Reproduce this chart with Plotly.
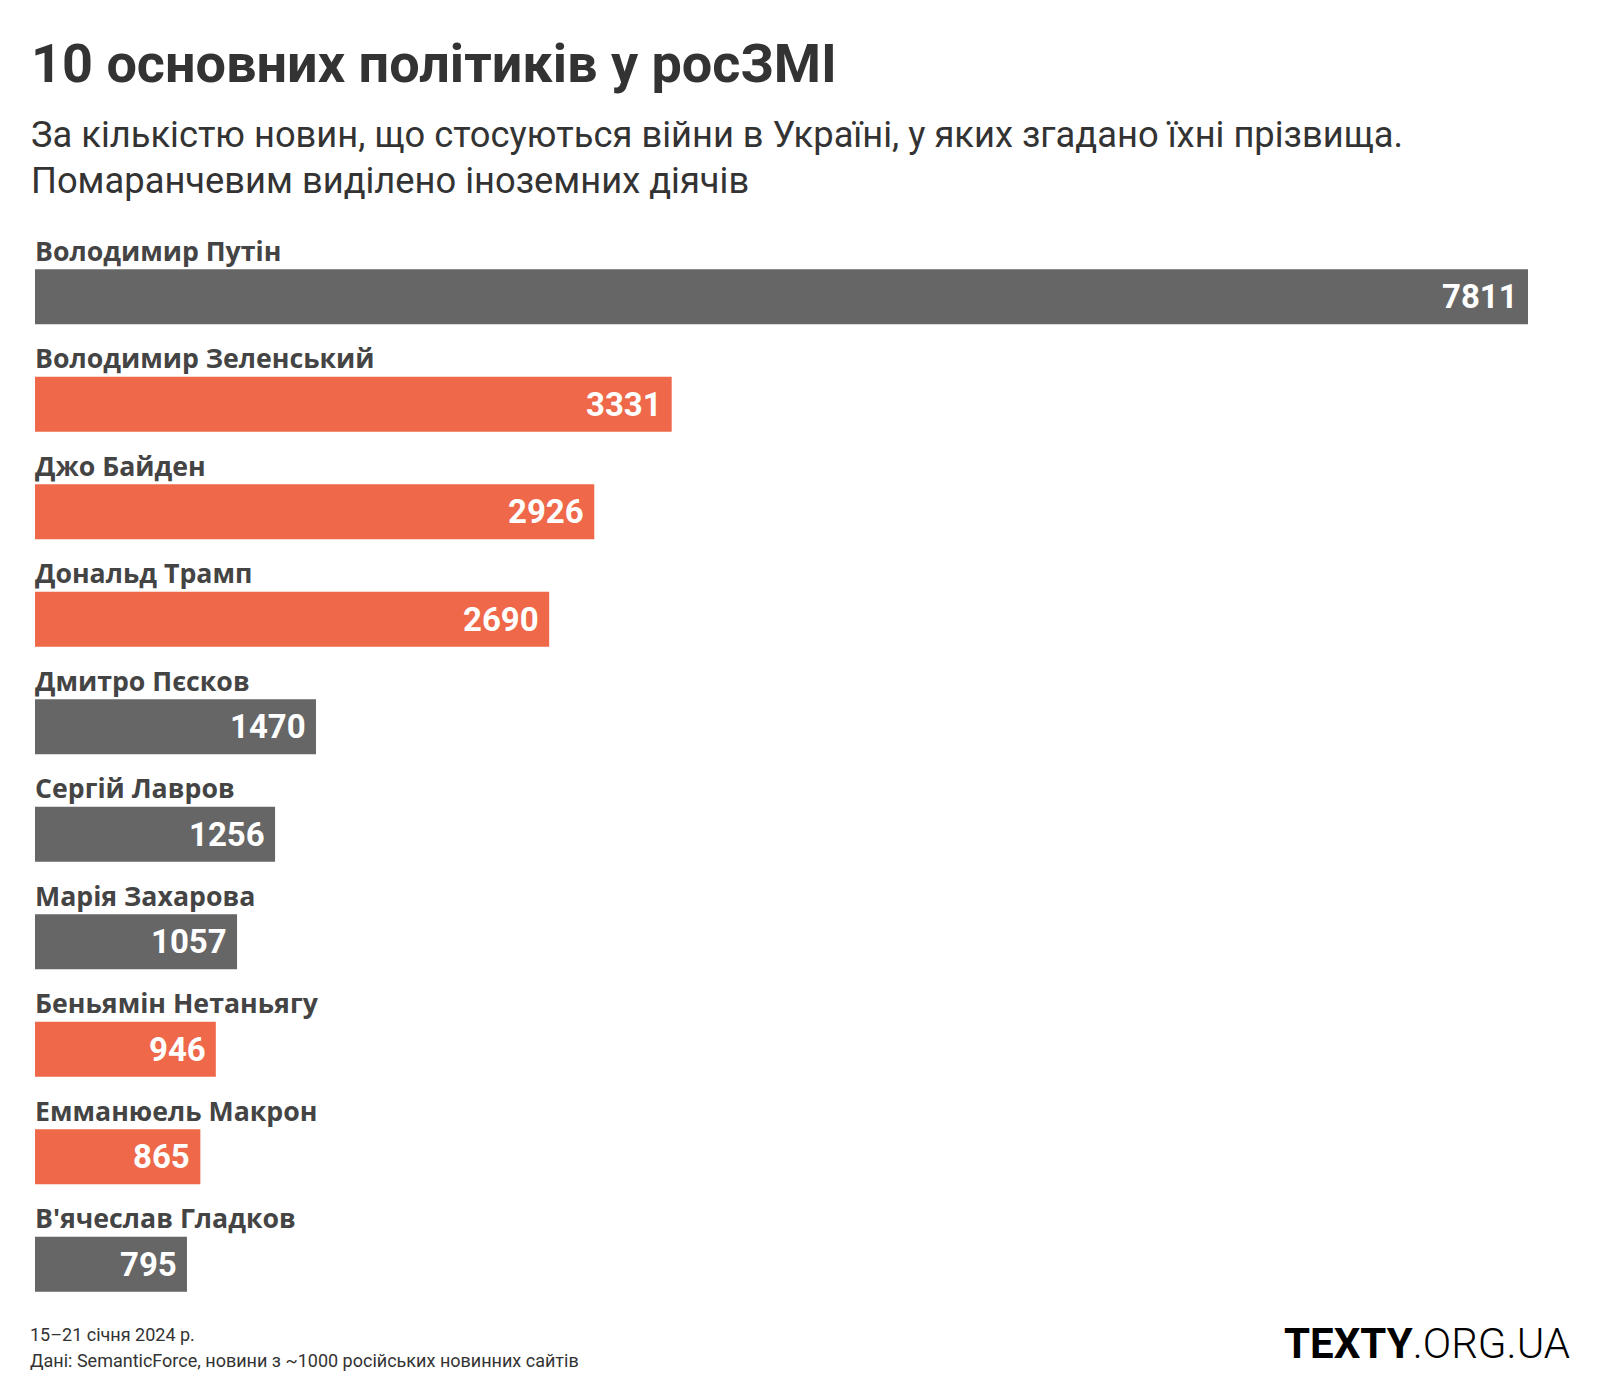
import plotly.graph_objects as go

names = ["Володимир Путін", "Володимир Зеленський", "Джо Байден", "Дональд Трамп",
         "Дмитро Пєсков", "Сергій Лавров", "Марія Захарова", "Беньямін Нетаньягу",
         "Емманюель Макрон", "В'ячеслав Гладков"]
counts = [7811, 3331, 2926, 2690, 1470, 1256, 1057, 946, 865, 795]
foreign = [False, True, True, True, False, False, False, True, True, False]

GRAY = "#666666"
ORANGE = "#ee6849"
FONT = "Roboto"
LABEL_FONT = "Open Sans"

OFF = 8  # default body margin of the html page
W, H = 1600 - OFF, 1400 - OFF
L, R, T, B = 27, 72, 235, 82
PW, PH = W - L - R, H - T - B


def px(x):
    """page x pixel -> paper coordinate"""
    return (x - OFF - L) / PW


def py(y):
    """page y pixel -> paper coordinate"""
    return (H - B - (y - OFF)) / PH


colors = [ORANGE if f else GRAY for f in foreign]

fig = go.Figure(go.Bar(
    x=counts, y=names, orientation="h",
    marker=dict(color=colors, line=dict(width=0)),
    hoverinfo="skip",
))

annotations = []
for n, c in zip(names, counts):
    annotations.append(dict(
        x=0, y=n, xref="x", yref="y", text=f"<b>{n}</b>", showarrow=False,
        xanchor="left", yanchor="bottom", yshift=26, xshift=-2,
        font=dict(family=LABEL_FONT, size=26.7, color="#444444"),
    ))
    annotations.append(dict(
        x=c, y=n, xref="x", yref="y", text=f"<b>{c}</b>", showarrow=False,
        xanchor="right", yanchor="middle", xshift=-8, yshift=0,
        font=dict(family=FONT, size=33, color="white"),
    ))

annotations += [
    dict(x=px(29), y=py(63), xref="paper", yref="paper", showarrow=False,
         text="<b>10 основних політиків у росЗМІ</b>", xanchor="left", yanchor="middle",
         font=dict(family=FONT, size=54, color="#333333")),
    dict(x=px(29), y=py(134), xref="paper", yref="paper", showarrow=False,
         text="За кількістю новин, що стосуються війни в Україні, у яких згадано їхні прізвища.",
         xanchor="left", yanchor="middle",
         font=dict(family=FONT, size=36.3, color="#333333")),
    dict(x=px(29), y=py(180), xref="paper", yref="paper", showarrow=False,
         text="Помаранчевим виділено іноземних діячів",
         xanchor="left", yanchor="middle",
         font=dict(family=FONT, size=36.3, color="#333333")),
    dict(x=px(28), y=py(1334), xref="paper", yref="paper", showarrow=False,
         text="15–21 січня 2024 р.", xanchor="left", yanchor="middle",
         font=dict(family=FONT, size=18, color="#333333")),
    dict(x=px(28), y=py(1360), xref="paper", yref="paper", showarrow=False,
         text="Дані: SemanticForce, новини з ~1000 російських новинних сайтів",
         xanchor="left", yanchor="middle",
         font=dict(family=FONT, size=18, color="#333333")),
    dict(x=px(1572), y=py(1343), xref="paper", yref="paper", showarrow=False,
         text="<b>TEXTY</b>.ORG.UA", xanchor="right", yanchor="middle",
         font=dict(family=FONT, size=42, color="#000000", weight=300)),
]

fig.update_layout(
    width=W, height=H,
    margin=dict(l=L, r=R, t=T, b=B, pad=0),
    paper_bgcolor="white", plot_bgcolor="white",
    bargap=0.488,
    showlegend=False,
    xaxis=dict(range=[0, 7811], visible=False, fixedrange=True),
    yaxis=dict(categoryorder="array", categoryarray=names, range=[9.5, -0.5],
               visible=False, fixedrange=True),
    annotations=annotations,
)

fig.write_html("out.html")
